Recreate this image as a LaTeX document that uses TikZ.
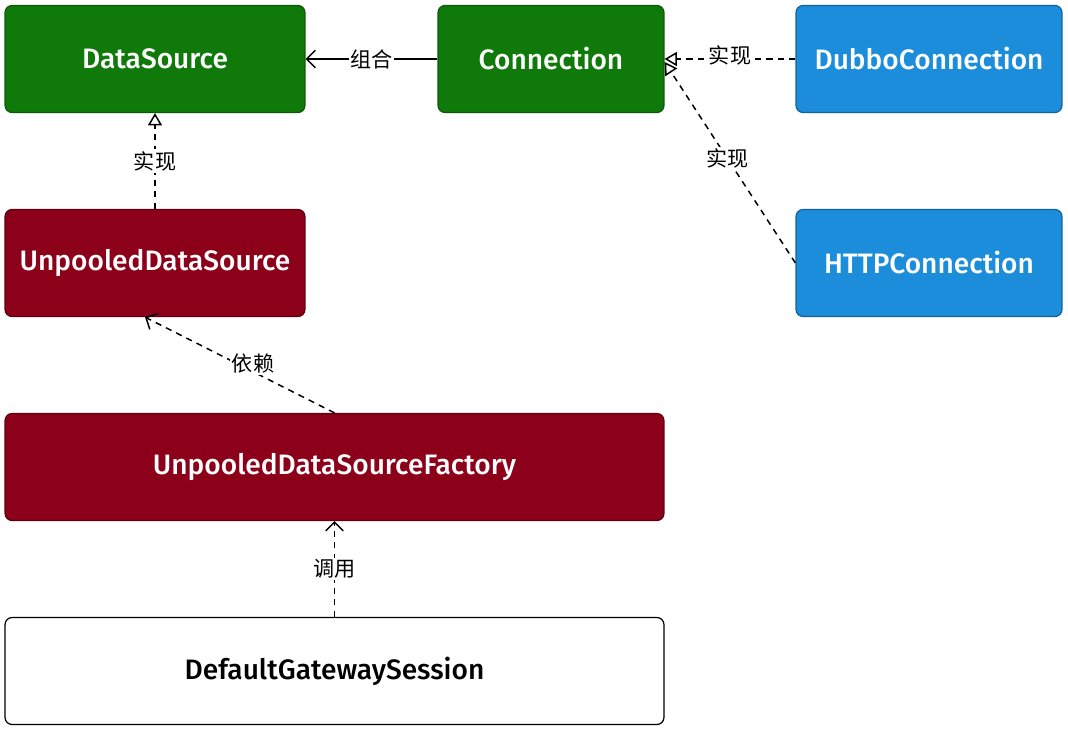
\documentclass[tikz,border=0pt]{standalone}
\usepackage{fontspec}
\setmainfont{Fira Sans}[BoldFont={Fira Sans Medium}]
\newfontfamily\cjk{Noto Sans CJK SC}
\usepackage{xcolor}
\usetikzlibrary{arrows.meta, positioning}

\definecolor{boxgreen}{HTML}{0F790A}
\definecolor{edgegreen}{HTML}{0B5A07}
\definecolor{boxred}{HTML}{8C001A}
\definecolor{edgered}{HTML}{5E0010}
\definecolor{boxblue}{HTML}{1B8DDA}
\definecolor{edgeblue}{HTML}{10639F}

\begin{document}
\begin{tikzpicture}[
  x=0.02cm, y=-0.02cm,
  box/.style={rectangle, rounded corners=4pt, line width=0.7pt, minimum height=2.14cm, align=center, text=white, font=\fontsize{16}{18}\selectfont\bfseries},
  greenbox/.style={box, fill=boxgreen, draw=edgegreen, minimum width=6cm},
  redbox/.style={box, fill=boxred, draw=edgered, minimum width=6cm},
  bluebox/.style={box, fill=boxblue, draw=edgeblue, minimum width=5.32cm},
  plainbox/.style={box, fill=white, draw=black, text=black, minimum width=13.18cm},
  compose/.style={-{Straight Barb[length=5pt, width=10pt]}, line width=0.85pt},
  realize/.style={-{Triangle[open, length=7pt, width=8pt]}, dash pattern=on 3.5pt off 3pt, line width=0.85pt},
  depend/.style={-{Straight Barb[length=5pt, width=10pt]}, dash pattern=on 3.5pt off 3pt, line width=0.85pt},
  lbl/.style={fill=white, inner sep=1pt, font=\cjk\fontsize{12}{14}\selectfont}
]
\useasboundingbox (0,0) rectangle (1068,730);

\node[greenbox] (ds) at (155,59) {DataSource};
\node[greenbox, minimum width=4.52cm] (conn) at (551,59) {Connection};
\node[bluebox] (dubbo) at (929,59) {DubboConnection};
\node[redbox] (unpooled) at (155,263) {UnpooledDataSource};
\node[bluebox] (http) at (929,263) {HTTPConnection};
\node[redbox, minimum width=13.18cm] (factory) at (334.5,467) {UnpooledDataSourceFactory};
\node[plainbox] (session) at (334.5,671) {DefaultGatewaySession};

\draw[compose] (conn.west) -- node[lbl] {组合} (ds.east);
\draw[realize] (dubbo.west) -- node[lbl, yshift=0.08cm] {实现} (conn.east);
\draw[realize] (http.west) -- node[lbl, pos=0.52] {实现} ([yshift=-0.06cm]conn.east);
\draw[realize] (unpooled.north) -- node[lbl] {实现} (ds.south);
\draw[depend] (factory.north) -- node[lbl, pos=0.43, yshift=0.16cm] {依赖} ([xshift=-0.2cm]unpooled.south);
\draw[depend] (session.north) -- node[lbl] {调用} (factory.south);
\end{tikzpicture}
\end{document}
